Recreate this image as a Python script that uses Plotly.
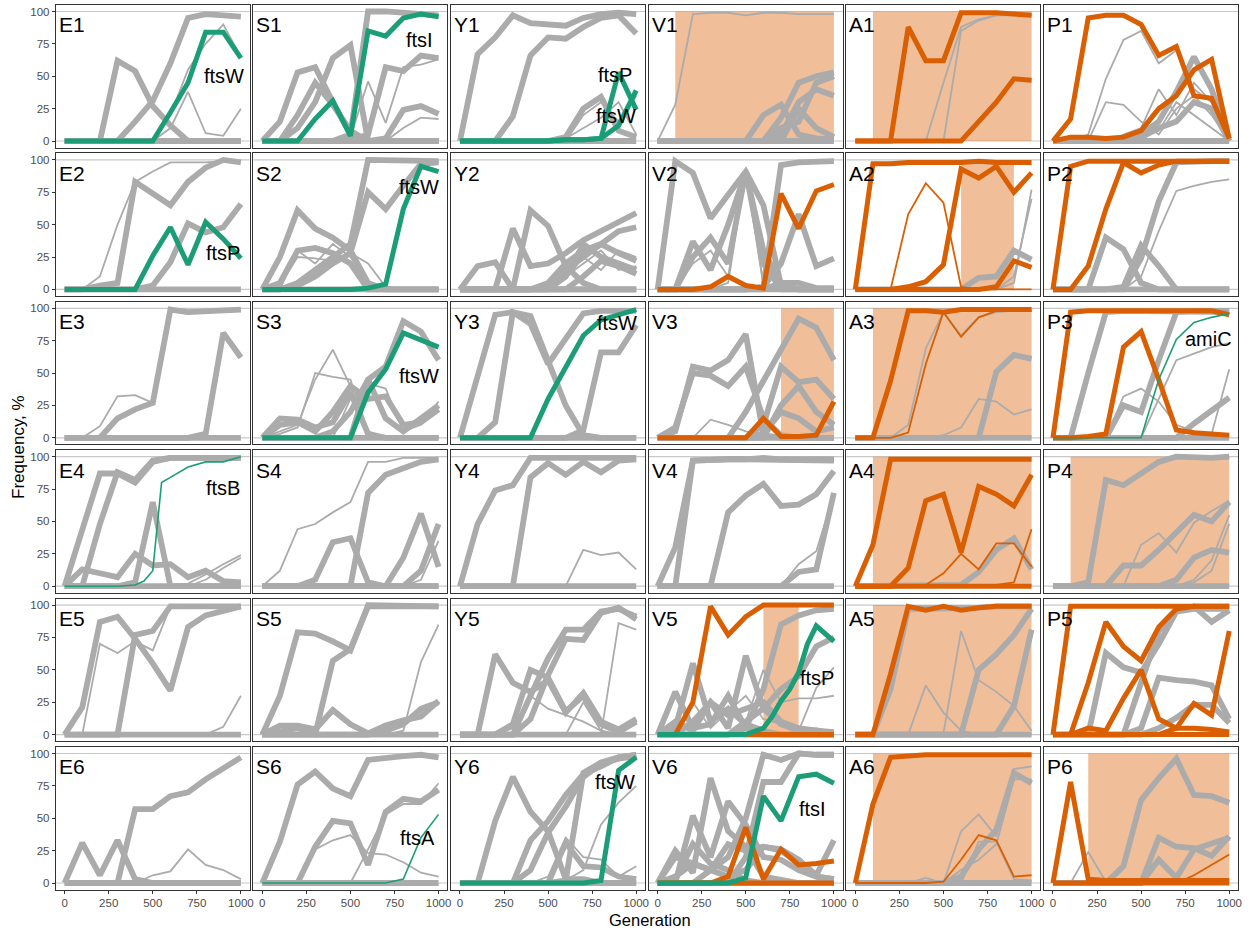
import plotly.graph_objects as go

# Sampling generations shared by most trajectories
GEN = [0, 100, 200, 300, 400, 500, 600, 700, 800, 900, 1000]

COL_KEYS = ["E", "S", "Y", "V", "A", "P"]
ROW_KEYS = ["1", "2", "3", "4", "5", "6"]

# Mutation frequency trajectories (%) per population.
# bg = other mutations (major / minor), div = division genes, tgt = targeted alleles
E1 = dict(
    bg=[[0, 0, 0, 62, 54, 27, 12, 0, 0, 0, 0],
        [0, 0, 0, 0, 15, 31, 60, 95, 98, 97, 96],
        [0] * 11],
    bg_minor=[[0, 0, 0, 0, 0, 0, 20, 55, 75, 90, 65],
              [0, 0, 0, 0, 0, 0, 10, 38, 6, 4, 25]],
    div=[[0, 0, 0, 0, 0, 0, 22, 45, 84, 84, 64]],
)
S1 = dict(
    bg=[[0, 15, 53, 57, 30, 5, 0, 0, 0, 0, 0],
        [0, 0, 10, 30, 64, 74, 0, 0, 0, 0, 0],
        [0, 0, 20, 45, 28, 8, 0, 0, 0, 0, 0],
        [0, 0, 0, 0, 0, 5, 100, 100, 99, 98, 97],
        [0, 0, 0, 0, 0, 0, 5, 57, 54, 66, 64],
        [0, 0, 0, 0, 0, 0, 0, 2, 24, 27, 21],
        [0] * 11],
    bg_minor=[[0, 0, 0, 0, 0, 3, 46, 14, 57, 59, 63],
              [0, 0, 0, 0, 0, 0, 0, 0, 10, 18, 17]],
    div=[[0, 0, 0, 17, 31, 4, 85, 81, 95, 98, 96]],
)
Y1 = dict(
    bg=[[0, 67, 80, 97, 91, 90, 89, 95, 98, 99, 98],
        [0, 0, 0, 19, 66, 80, 79, 88, 95, 97, 83],
        [0, 0, 0, 0, 0, 0, 3, 25, 34, 8, 3],
        [0] * 11],
    bg_minor=[[0, 0, 0, 0, 0, 0, 0, 20, 30, 15, 35],
              [0, 0, 0, 0, 0, 0, 2, 10, 18, 30, 5]],
    div=[[0, 0, 0, 0, 0, 0, 1, 1, 2, 53, 24],
         [0, 0, 0, 0, 0, 0, 1, 1, 2, 12, 39]],
)
V1 = dict(
    bg=[[0, 0, 0, 0, 0, 0, 20, 28, 5, 2, 1],
        [0, 0, 0, 0, 0, 0, 0, 18, 45, 50, 53],
        [0, 0, 0, 0, 0, 0, 0, 5, 30, 40, 35],
        [0, 0, 0, 0, 0, 0, 0, 0, 25, 10, 3],
        [0, 0, 0, 0, 0, 0, 0, 10, 15, 45, 50],
        [0] * 11],
    bg_minor=[[0, 28, 98, 99, 99, 97, 99, 99, 98, 98, 98]],
)
A1 = dict(
    bg_minor=[[0, 0, 0, 0, 0, 45, 88, 94, 97, 97, 97],
              [0, 0, 0, 0, 0, 0, 85, 93, 97, 98, 97]],
    tgt=[[0, 0, 0, 88, 62, 62, 99, 99, 99, 98, 97],
         [0, 0, 0, 0, 0, 0, 0, 15, 30, 48, 47]],
)
P1 = dict(
    bg=[[0, 0, 0, 0, 0, 5, 15, 38, 65, 40, 0],
        [0, 0, 0, 0, 0, 3, 10, 15, 30, 25, 0],
        [0] * 11],
    bg_minor=[[0, 0, 5, 48, 78, 85, 60, 70, 40, 30, 2],
              [0, 0, 0, 30, 28, 15, 5, 25, 35, 20, 0],
              [0, 0, 0, 0, 5, 10, 40, 20, 45, 30, 0],
              [0, 0, 0, 0, 0, 2, 8, 30, 20, 10, 0]],
    tgt=[[0, 17, 95, 97, 97, 90, 66, 73, 35, 33, 2],
         [0, 3, 3, 2, 3, 8, 25, 35, 55, 63, 2]],
)

E2 = dict(
    bg=[[0, 0, 3, 5, 83, 74, 65, 83, 94, 100, 98],
        [0, 0, 0, 0, 0, 3, 21, 51, 44, 48, 66],
        [0] * 11],
    bg_minor=[[0, 0, 10, 50, 83, 91, 98, 98, 98, 99, 99]],
    div=[[0, 0, 0, 0, 0, 26, 48, 19, 52, 39, 24]],
)
S2 = dict(
    bg=[[0, 25, 61, 47, 40, 30, 5, 0, 0, 0, 0],
        [0, 0, 5, 15, 25, 35, 100, 100, 100, 100, 99],
        [0, 0, 3, 10, 20, 28, 75, 62, 80, 97, 98],
        [0, 5, 30, 32, 28, 20, 0, 0, 0, 0, 0],
        [0] * 11],
    bg_minor=[[0, 3, 25, 24, 22, 28, 20, 2, 0, 0, 0],
              [0, 0, 30, 20, 35, 25, 5, 0, 0, 0, 0]],
    div=[[0, 0, 0, 0, 0, 0, 1, 4, 62, 95, 91]],
)
Y2 = dict(
    bg=[[0, 18, 21, 0, 0, 0, 0, 0, 0, 0, 0],
        [0, 0, 0, 47, 18, 20, 28, 38, 45, 52, 59],
        [0, 0, 0, 0, 61, 49, 18, 5, 0, 0, 0],
        [0, 0, 0, 0, 0, 5, 20, 30, 35, 45, 48],
        [0, 0, 0, 0, 0, 0, 10, 35, 25, 20, 15],
        [0, 0, 0, 0, 0, 3, 15, 25, 35, 28, 22],
        [0, 0, 0, 0, 0, 0, 0, 10, 22, 18, 12],
        [0] * 11],
    bg_minor=[[0, 0, 0, 0, 0, 0, 10, 20, 30, 15, 18],
              [0, 0, 0, 0, 0, 2, 8, 25, 15, 30, 25]],
)
V2 = dict(
    bg=[[0, 99, 90, 55, 73, 91, 65, 3, 0, 0, 0],
        [0, 0, 37, 15, 50, 91, 30, 5, 0, 0, 0],
        [0, 0, 25, 40, 20, 91, 20, 0, 0, 0, 0],
        [0, 0, 0, 0, 0, 0, 2, 96, 98, 99, 99],
        [0, 0, 0, 0, 0, 0, 2, 20, 58, 18, 24],
        [0, 0, 0, 0, 0, 0, 0, 5, 5, 1, 1],
        [0] * 11],
    bg_minor=[[0, 0, 20, 30, 10, 91, 5, 0, 0, 0, 0],
              [0, 0, 0, 0, 5, 91, 3, 0, 0, 0, 0]],
    tgt=[[0, 0, 0, 2, 10, 3, 1, 74, 47, 76, 81]],
)
A2 = dict(
    bg=[[0, 0, 0, 0, 0, 0, 0, 9, 10, 30, 23]],
    bg_minor=[[0, 0, 0, 0, 0, 0, 0, 0, 0, 5, 77],
              [0, 0, 0, 0, 0, 0, 0, 0, 0, 10, 70]],
    tgt=[[0, 97, 97, 98, 98, 98, 98, 99, 98, 98, 98],
         [0, 0, 0, 2, 6, 19, 93, 86, 95, 75, 90],
         [0, 0, 0, 0, 0, 0, 0, 0, 2, 22, 17]],
    tgt_minor=[[0, 0, 0, 58, 82, 67, 2, 0, 0, 0, 0]],
)
P2 = dict(
    bg=[[0, 0, 0, 40, 31, 5, 0, 0, 0, 0, 0],
        [0, 0, 0, 0, 2, 34, 18, 0, 0, 0, 0],
        [0, 0, 0, 0, 0, 24, 68, 98, 99, 99, 99],
        [0] * 11],
    bg_minor=[[0, 0, 0, 0, 0, 10, 45, 76, 80, 83, 85]],
    tgt=[[0, 95, 99, 99, 99, 99, 99, 99, 99, 99, 99],
         [0, 0, 18, 62, 98, 90, 96, 99, 99, 99, 99]],
)

E3 = dict(
    bg=[[0, 0, 0, 15, 22, 27, 99, 97, 98, 99, 99],
        [0, 0, 0, 0, 0, 0, 0, 0, 3, 81, 62],
        [0] * 11],
    bg_minor=[[0, 0, 9, 32, 33, 27, 99, 97, 98, 99, 99]],
)
S3 = dict(
    bg=[[0, 0, 0, 0, 0, 0, 45, 55, 90, 82, 60],
        [0, 15, 14, 8, 12, 35, 3, 0, 0, 0, 0],
        [0, 10, 12, 5, 20, 40, 30, 32, 10, 12, 22],
        [0, 0, 0, 0, 5, 20, 45, 15, 5, 15, 25],
        [0] * 11],
    bg_minor=[[0, 5, 10, 45, 68, 40, 0, 0, 0, 0, 0],
              [0, 3, 8, 50, 47, 45, 5, 0, 0, 0, 0],
              [0, 0, 0, 0, 0, 30, 42, 38, 5, 10, 28]],
    div=[[0, 0, 0, 0, 0, 0, 35, 53, 81, 76, 70]],
)
Y3 = dict(
    bg=[[0, 47, 95, 97, 88, 57, 77, 96, 98, 98, 98],
        [0, 0, 12, 97, 94, 60, 25, 2, 0, 0, 0],
        [0, 0, 0, 0, 0, 0, 0, 6, 66, 66, 87],
        [0] * 11],
    div=[[0, 0, 0, 0, 0, 30, 55, 79, 91, 95, 99]],
)
V3 = dict(
    bg=[[0, 5, 55, 52, 60, 80, 2, 0, 0, 0, 0],
        [0, 8, 50, 48, 40, 55, 15, 2, 0, 0, 0],
        [0, 0, 0, 0, 0, 20, 45, 68, 92, 85, 60],
        [0, 0, 0, 0, 0, 0, 10, 55, 43, 45, 30],
        [0, 0, 0, 0, 0, 0, 0, 25, 40, 20, 10],
        [0, 0, 0, 0, 0, 0, 3, 20, 15, 5, 8],
        [0] * 11],
    bg_minor=[[0, 0, 0, 14, 10, 5, 2, 0, 0, 0, 0]],
    tgt=[[0, 0, 0, 0, 0, 0, 15, 1, 1, 2, 28]],
)
A3 = dict(
    bg=[[0, 0, 0, 0, 0, 0, 0, 0, 51, 64, 61],
        [0] * 11],
    bg_minor=[[0, 0, 0, 10, 69, 97, 79, 93, 97, 98, 98],
              [0, 0, 0, 0, 0, 2, 8, 30, 28, 18, 22]],
    tgt=[[0, 0, 44, 98, 98, 97, 99, 99, 99, 99, 99]],
    tgt_minor=[[0, 0, 0, 4, 57, 97, 78, 93, 98, 98, 98]],
)
P3 = dict(
    bg=[[0, 0, 50, 97, 98, 98, 98, 98, 97, 97, 97],
        [0, 0, 0, 0, 25, 20, 60, 97, 98, 98, 98],
        [0, 0, 0, 0, 0, 0, 0, 0, 11, 21, 31],
        [0] * 11],
    bg_minor=[[0, 0, 0, 0, 32, 38, 28, 10, 5, 3, 2],
              [0, 0, 0, 0, 0, 0, 30, 60, 65, 70, 73],
              [0, 0, 0, 0, 0, 0, 0, 0, 2, 3, 53]],
    tgt=[[0, 97, 98, 98, 98, 98, 98, 98, 98, 98, 95],
         [0, 0, 1, 3, 70, 82, 45, 6, 4, 3, 2]],
    div_minor=[[0, 0, 0, 0, 0, 0, 45, 76, 89, 93, 96]],
)

E4 = dict(
    bg=[[0, 45, 87, 87, 80, 96, 99, 99, 99, 99, 99],
        [0, 0, 48, 88, 82, 97, 99, 99, 99, 99, 99],
        [0, 13, 10, 7, 25, 16, 17, 7, 12, 4, 3],
        [0, 0, 0, 0, 3, 65, 0, 0, 0, 0, 0],
        [0] * 11],
    bg_minor=[[0, 0, 0, 0, 0, 0, 0, 2, 9, 17, 24],
              [0, 0, 0, 0, 0, 0, 0, 0, 5, 14, 22]],
    div_minor=[dict(gen=[0, 100, 200, 300, 400, 450, 500, 550, 600, 700, 800, 900, 1000],
                    freq=[0, 0, 0, 0, 1, 4, 12, 80, 84, 92, 96, 96, 100])],
)
S4 = dict(
    bg=[[0, 0, 0, 5, 34, 37, 3, 0, 0, 0, 0],
        [0, 0, 0, 0, 0, 0, 72, 86, 91, 96, 98],
        [0, 0, 0, 0, 0, 0, 0, 0, 22, 56, 15],
        [0, 0, 0, 0, 0, 0, 0, 0, 0, 12, 48],
        [0] * 11],
    bg_minor=[[0, 12, 44, 48, 57, 65, 96, 96, 99, 99, 99],
              [0, 0, 0, 0, 0, 0, 0, 0, 0, 5, 35]],
)
Y4 = dict(
    bg=[[0, 48, 74, 78, 99, 99, 99, 99, 99, 99, 99],
        [0, 0, 0, 0, 84, 95, 86, 96, 88, 97, 98],
        [0] * 11],
    bg_minor=[[0, 0, 0, 0, 0, 0, 0, 28, 24, 26, 13]],
)
V4 = dict(
    bg=[[0, 30, 97, 98, 98, 98, 98, 98, 98, 98, 97],
        [0, 0, 97, 98, 98, 98, 99, 98, 98, 98, 98],
        [0, 0, 0, 0, 57, 70, 79, 62, 63, 71, 89],
        [0, 0, 0, 0, 0, 0, 0, 0, 11, 13, 72],
        [0] * 11],
    bg_minor=[[0, 0, 0, 0, 0, 0, 0, 0, 17, 27, 71]],
)
A4 = dict(
    bg=[[0, 0, 0, 0, 0, 0, 1, 11, 28, 37, 13]],
    tgt=[[0, 32, 98, 98, 98, 98, 98, 98, 98, 98, 98],
         [0, 0, 0, 14, 66, 71, 26, 77, 71, 62, 86],
         [0] * 11],
    tgt_minor=[[0, 0, 0, 0, 1, 10, 25, 13, 33, 33, 15],
               [0, 0, 0, 0, 0, 0, 0, 0, 1, 3, 44]],
)
P4 = dict(
    bg=[[0, 0, 3, 82, 78, 87, 96, 100, 99, 99, 100],
        [0, 0, 0, 0, 16, 16, 28, 41, 55, 50, 65],
        [0, 0, 0, 0, 0, 0, 0, 5, 22, 28, 26],
        [0] * 11],
    bg_minor=[[0, 0, 0, 0, 0, 32, 41, 26, 49, 58, 66],
              [0, 0, 0, 0, 0, 0, 0, 0, 5, 20, 55],
              [0, 0, 0, 0, 0, 0, 0, 0, 3, 12, 48]],
)

E5 = dict(
    bg=[[0, 21, 87, 91, 74, 55, 34, 83, 92, 96, 99],
        [0, 0, 0, 0, 77, 80, 99, 99, 98, 99, 99],
        [0] * 11],
    bg_minor=[[0, 0, 70, 63, 72, 65, 99, 99, 98, 99, 99],
              [0, 0, 0, 0, 0, 0, 0, 0, 0, 6, 30]],
)
S5 = dict(
    bg=[[0, 30, 79, 78, 72, 65, 100, 100, 99, 99, 99],
        [0, 0, 0, 0, 57, 66, 99, 99, 99, 99, 99],
        [0, 7, 7, 4, 19, 8, 1, 7, 11, 14, 26],
        [0, 3, 5, 0, 0, 0, 0, 3, 8, 20, 25],
        [0] * 11],
    bg_minor=[[0, 0, 0, 0, 0, 0, 0, 0, 3, 56, 85]],
)
Y5 = dict(
    bg=[[0, 0, 62, 40, 33, 42, 17, 32, 10, 4, 12],
        [0, 0, 0, 8, 50, 44, 18, 30, 8, 2, 10],
        [0, 0, 0, 0, 30, 59, 81, 81, 95, 97, 91],
        [0, 0, 0, 0, 12, 46, 74, 73, 94, 98, 89],
        [0] * 11],
    bg_minor=[[0, 0, 0, 0, 0, 0, 0, 0, 0, 86, 81],
              [0, 0, 0, 5, 30, 20, 15, 10, 3, 0, 0],
              [0, 0, 0, 0, 0, 0, 0, 25, 3, 0, 0]],
)
V5 = dict(
    bg=[[0, 33, 5, 8, 30, 5, 0, 0, 0, 0, 0],
        [0, 5, 55, 10, 20, 8, 3, 0, 0, 0, 0],
        [0, 0, 10, 25, 5, 61, 20, 8, 3, 0, 0],
        [0, 0, 0, 0, 0, 5, 35, 85, 92, 96, 97],
        [0, 0, 0, 0, 0, 10, 20, 35, 45, 68, 75],
        [0, 10, 3, 25, 15, 20, 25, 10, 5, 3, 2],
        [0] * 11],
    bg_minor=[[0, 0, 0, 0, 0, 10, 50, 25, 28, 28, 30],
              [0, 0, 0, 0, 0, 0, 0, 0, 3, 36, 52],
              [0, 2, 25, 5, 18, 30, 12, 8, 3, 5, 2]],
    tgt=[[0, 0, 25, 99, 77, 91, 100, 100, 100, 100, 100],
         [0] * 11],
    div=[dict(gen=[0, 100, 200, 300, 400, 500, 600, 650, 700, 750, 800, 850, 900, 1000],
              freq=[0, 0, 0, 0, 0, 0, 5, 14, 26, 35, 48, 70, 84, 72])],
)
A5 = dict(
    bg=[[0, 0, 35, 97, 97, 97, 97, 98, 99, 99, 99],
        [0, 0, 0, 0, 0, 0, 0, 50, 62, 77, 97],
        [0, 0, 0, 0, 0, 0, 0, 0, 0, 22, 81],
        [0] * 11],
    bg_minor=[[0, 0, 0, 0, 38, 17, 3, 0, 0, 0, 0],
              [0, 0, 0, 0, 0, 1, 80, 42, 33, 22, 3]],
    tgt=[[0, 0, 47, 99, 96, 99, 96, 98, 99, 99, 99]],
)
P5 = dict(
    bg=[[0, 0, 0, 63, 52, 48, 70, 95, 97, 97, 97],
        [0, 0, 0, 0, 0, 5, 44, 42, 41, 38, 12],
        [0, 0, 0, 0, 0, 0, 5, 13, 23, 23, 9],
        [0, 0, 0, 0, 0, 40, 80, 95, 99, 87, 96]],
    tgt=[[0, 99, 99, 99, 99, 99, 99, 99, 99, 99, 99],
         [0, 0, 40, 87, 68, 57, 83, 97, 99, 99, 99],
         [0, 0, 5, 3, 28, 50, 12, 5, 5, 4, 2],
         [0, 0, 0, 0, 0, 0, 0, 5, 24, 15, 80],
         [0] * 11],
)

E6 = dict(
    bg=[[0, 31, 6, 33, 3, 0, 0, 0, 0, 0, 0],
        [0, 0, 0, 0, 57, 57, 67, 70, 80, 89, 97],
        [0] * 11],
    bg_minor=[[0, 0, 0, 0, 0, 6, 9, 26, 14, 10, 3]],
)
S6 = dict(
    bg=[[0, 32, 76, 86, 73, 67, 95, 97, 98, 99, 97],
        [0, 0, 0, 28, 48, 46, 14, 55, 65, 63, 72],
        [0] * 11],
    bg_minor=[[0, 0, 0, 26, 33, 37, 23, 22, 16, 8, 5],
              [0, 0, 0, 0, 0, 0, 26, 53, 61, 61, 77]],
    div_minor=[[0, 0, 0, 0, 0, 0, 0, 0, 3, 35, 53]],
)
Y6 = dict(
    bg=[[0, 0, 48, 82, 55, 40, 3, 3, 0, 0, 0],
        [0, 0, 0, 0, 33, 48, 68, 84, 90, 97, 99],
        [0, 0, 0, 0, 10, 39, 59, 82, 92, 96, 98],
        [0, 0, 0, 0, 0, 0, 2, 85, 93, 97, 99],
        [0, 0, 0, 0, 0, 0, 31, 13, 12, 5, 3],
        [0] * 11],
    bg_minor=[[0, 0, 0, 0, 0, 5, 35, 20, 18, 5, 13],
              [0, 0, 0, 0, 0, 0, 2, 10, 45, 62, 75]],
    div=[[0, 0, 0, 0, 0, 0, 0, 0, 2, 87, 97]],
)
V6 = dict(
    bg=[[0, 25, 8, 81, 40, 28, 5, 2, 0, 0, 0],
        [0, 0, 52, 20, 63, 45, 20, 18, 10, 5, 3],
        [0, 0, 0, 10, 20, 50, 99, 95, 100, 99, 99],
        [0, 0, 0, 0, 0, 20, 78, 78, 100, 99, 99],
        [0, 5, 15, 10, 5, 10, 28, 26, 18, 6, 33],
        [0, 20, 15, 10, 30, 25, 28, 25, 15, 5, 3],
        [0, 3, 30, 15, 10, 2, 0, 0, 0, 0, 0],
        [0] * 11],
    tgt=[[0, 0, 0, 0, 5, 43, 3, 26, 14, 15, 17],
         [0] * 11],
    div=[[0, 0, 0, 0, 0, 4, 67, 48, 82, 84, 77]],
)
A6 = dict(
    bg=[[0, 0, 0, 0, 0, 0, 5, 26, 41, 85, 77],
        [0] * 11],
    bg_minor=[[0, 0, 0, 0, 4, 0, 40, 53, 36, 88, 90],
              [0, 0, 0, 0, 0, 0, 0, 32, 32, 3, 2],
              [0, 0, 0, 0, 0, 0, 10, 18, 30, 80, 80]],
    tgt=[[0, 61, 97, 98, 99, 99, 99, 99, 99, 99, 99]],
    tgt_minor=[[0, 0, 0, 0, 0, 1, 18, 37, 33, 5, 6]],
)
P6 = dict(
    bg=[[0, 0, 0, 0, 13, 64, 81, 96, 68, 67, 62],
        [0, 0, 0, 0, 0, 0, 35, 28, 27, 21, 36],
        [0, 0, 0, 0, 0, 0, 18, 4, 26, 30, 35]],
    bg_minor=[[0, 0, 24, 1, 0, 0, 0, 0, 0, 0, 0]],
    tgt=[[0, 78, 3, 2, 2, 2, 2, 2, 2, 2, 2],
         [0] * 11],
    tgt_minor=[[0, 0, 0, 0, 0, 0, 0, 0, 6, 14, 22]],
)

PANELS = {
    "E1": E1, "S1": S1, "Y1": Y1, "V1": V1, "A1": A1, "P1": P1,
    "E2": E2, "S2": S2, "Y2": Y2, "V2": V2, "A2": A2, "P2": P2,
    "E3": E3, "S3": S3, "Y3": Y3, "V3": V3, "A3": A3, "P3": P3,
    "E4": E4, "S4": S4, "Y4": Y4, "V4": V4, "A4": A4, "P4": P4,
    "E5": E5, "S5": S5, "Y5": Y5, "V5": V5, "A5": A5, "P5": P5,
    "E6": E6, "S6": S6, "Y6": Y6, "V6": V6, "A6": A6, "P6": P6,
}

# Generation windows (start, end) highlighted per population
WINDOWS = {
    "V1": (100, 1000), "A1": (100, 1000),
    "A2": (600, 900),
    "V3": (700, 1000), "A3": (100, 1000),
    "A4": (100, 1000), "P4": (100, 1000),
    "V5": (600, 800), "A5": (100, 1000),
    "A6": (100, 1000), "P6": (200, 1000),
}

# Gene names written next to division-gene trajectories: (text, generation, frequency)
GENE_LABELS = {
    "E1": [("ftsW", 905, 50)],
    "S1": [("ftsI", 890, 78)],
    "Y1": [("ftsP", 880, 51), ("ftsW", 885, 19)],
    "E2": [("ftsP", 900, 28)],
    "S2": [("ftsW", 890, 79)],
    "S3": [("ftsW", 890, 48)],
    "Y3": [("ftsW", 890, 89)],
    "P3": [("amiC", 880, 76)],
    "E4": [("ftsB", 900, 76)],
    "V5": [("ftsP", 905, 44)],
    "S6": [("ftsA", 880, 35)],
    "Y6": [("ftsW", 880, 78)],
    "V6": [("ftsI", 880, 57)],
}

# ---- styling ----
GREY = "#ABABAB"
GREEN = "#1B9E77"
ORANGE = "#D95F02"
WINDOW_FILL = "rgba(217,95,2,0.4)"
STYLE = {
    "bg": (GREY, 5.8),
    "bg_minor": (GREY, 1.8),
    "tgt_minor": (ORANGE, 1.8),
    "tgt": (ORANGE, 5),
    "div_minor": (GREEN, 1.6),
    "div": (GREEN, 5),
}
DRAW_ORDER = ["bg", "bg_minor", "tgt_minor", "tgt", "div_minor", "div"]

FONT = "Liberation Sans, Arial, sans-serif"
FIG_W, FIG_H = 1255, 930
LEFT0, PITCH_X, PANEL_W = 56, 198.3, 194.5
TOP0, PITCH_Y, PANEL_H = 5, 148.4, 142.5


def series_xy(entry):
    if isinstance(entry, dict):
        return entry["gen"], entry["freq"]
    return GEN, entry


fig = go.Figure()
layout = {}
shapes = []
annotations = []

for r, rk in enumerate(ROW_KEYS):
    for c, ck in enumerate(COL_KEYS):
        name = ck + rk
        k = r * 6 + c + 1
        xa = "x" if k == 1 else f"x{k}"
        ya = "y" if k == 1 else f"y{k}"
        left = LEFT0 + c * PITCH_X
        top = TOP0 + r * PITCH_Y
        xdom = [left / FIG_W, (left + PANEL_W) / FIG_W]
        ydom = [1 - (top + PANEL_H) / FIG_H, 1 - top / FIG_H]

        bottom_row = r == len(ROW_KEYS) - 1
        left_col = c == 0
        layout["xaxis" if k == 1 else f"xaxis{k}"] = dict(
            domain=xdom, anchor=ya, range=[-50, 1050],
            showgrid=False, zeroline=False,
            showline=True, mirror=True, linecolor="#333333", linewidth=1,
            tickvals=[0, 250, 500, 750, 1000],
            ticks="outside" if bottom_row else "", ticklen=3, tickcolor="#333333",
            showticklabels=bottom_row,
            tickfont=dict(family=FONT, size=11.5, color="#4D4D4D"),
        )
        layout["yaxis" if k == 1 else f"yaxis{k}"] = dict(
            domain=ydom, anchor=xa, range=[-5, 105],
            showgrid=False, zeroline=False,
            showline=True, mirror=True, linecolor="#333333", linewidth=1,
            tickvals=[0, 25, 50, 75, 100],
            ticks="outside" if left_col else "", ticklen=3, tickcolor="#333333",
            showticklabels=left_col,
            tickfont=dict(family=FONT, size=11.5, color="#4D4D4D"),
        )

        # highlighted generation window
        if name in WINDOWS:
            g0, g1 = WINDOWS[name]
            shapes.append(dict(type="rect", xref=xa, yref=ya, x0=g0, x1=g1, y0=0, y1=100,
                               fillcolor=WINDOW_FILL, line=dict(width=0), layer="below"))
        # reference lines at 0 % and 100 %
        for yv in (0, 100):
            shapes.append(dict(type="line", xref=f"{xa} domain", yref=ya, x0=0, x1=1,
                               y0=yv, y1=yv, line=dict(color="#C8C8C8", width=1.2),
                               layer="below"))

        panel = PANELS[name]
        for kind in DRAW_ORDER:
            color, width = STYLE[kind]
            for entry in panel.get(kind, []):
                gx, gy = series_xy(entry)
                fig.add_trace(go.Scatter(
                    x=gx, y=gy, mode="lines", xaxis=xa, yaxis=ya,
                    line=dict(color=color, width=width), hoverinfo="skip",
                    showlegend=False,
                ))

        # population id
        annotations.append(dict(
            text=name, xref=f"{xa} domain", yref=f"{ya} domain", x=0.005, y=0.955,
            xanchor="left", yanchor="top", showarrow=False,
            font=dict(family=FONT, size=21, color="#000000"),
        ))
        for txt, gx, gy in GENE_LABELS.get(name, []):
            annotations.append(dict(
                text=txt, xref=xa, yref=ya, x=gx, y=gy, showarrow=False,
                xanchor="center", yanchor="middle",
                font=dict(family=FONT, size=20, color="#000000"),
            ))

annotations.append(dict(
    text="Frequency, %", xref="paper", yref="paper", x=18 / FIG_W, y=1 - 447 / FIG_H,
    textangle=-90, showarrow=False, xanchor="center", yanchor="middle",
    font=dict(family=FONT, size=17, color="#000000"),
))
annotations.append(dict(
    text="Generation", xref="paper", yref="paper", x=652 / FIG_W, y=1 - 909 / FIG_H,
    showarrow=False, xanchor="center", yanchor="top",
    font=dict(family=FONT, size=16.5, color="#000000"),
))

fig.update_layout(
    width=FIG_W, height=FIG_H,
    margin=dict(l=0, r=0, t=0, b=0),
    paper_bgcolor="white", plot_bgcolor="white",
    showlegend=False,
    shapes=shapes, annotations=annotations,
    **layout,
)

fig.write_html("out.html")
